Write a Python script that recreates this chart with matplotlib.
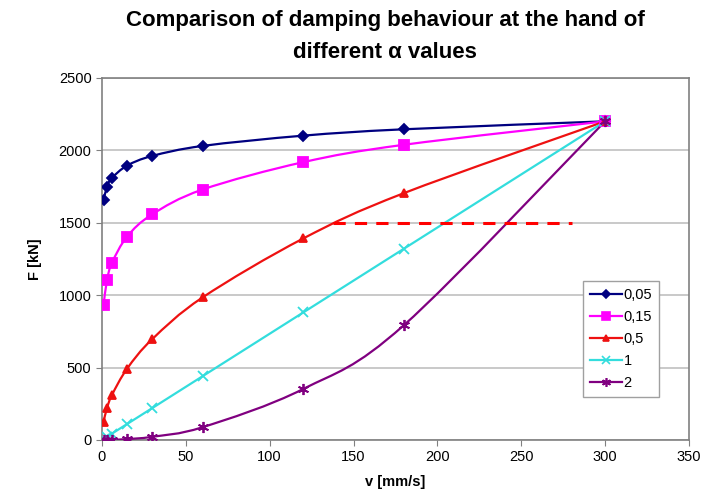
#!/usr/bin/env python3
# Comparison of damping behaviour for different alpha values (F = C * v^alpha)
import numpy as np
import matplotlib
matplotlib.use('Agg')
from matplotlib import pyplot as plt
from matplotlib.path import Path
from matplotlib.patches import PathPatch

plt.rcParams['font.family'] = ['Liberation Sans', 'DejaVu Sans']

v = [1, 3, 6, 15, 30, 60, 120, 180, 300]
f_005 = [1654, 1748, 1809, 1894, 1961, 2030, 2101, 2145, 2200]
f_015 = [935, 1102, 1223, 1404, 1558, 1729, 1918, 2038, 2200]
f_05 = [127, 220, 311, 492, 696, 984, 1391, 1704, 2200]
f_1 = [7, 22, 44, 110, 220, 440, 880, 1320, 2200]
f_2 = [0, 0, 1, 6, 22, 88, 352, 792, 2200]
labels = ['0,05', '0,15', '0,5', '1', '2']
limit_v = [138, 280]
limit_f = [1500, 1500]


def smooth(ax, x, y, color, lw):
    # excel style smoothed line: catmull-rom segments as cubic beziers, in pixel space
    tr = ax.transData
    p = tr.transform(np.column_stack([x, y]))
    n = len(p)
    verts = [p[0]]
    codes = [Path.MOVETO]
    for i in range(n - 1):
        p0 = p[i - 1] if i > 0 else p[i]
        p3 = p[i + 2] if i + 2 < n else p[i + 1]
        c1 = p[i] + (p[i + 1] - p0) / 6.0
        c2 = p[i + 1] - (p3 - p[i]) / 6.0
        verts += [c1, c2, p[i + 1]]
        codes += [Path.CURVE4] * 3
    verts = tr.inverted().transform(np.array(verts))
    ax.add_patch(PathPatch(Path(verts, codes), fill=False, edgecolor=color,
                           lw=lw, zorder=3, capstyle='round'))


fig = plt.figure(figsize=(7.03, 4.96), dpi=100)
ax = fig.add_axes([0.145, 0.113, 0.835, 0.73])
ax.set_xlim(0, 350)
ax.set_ylim(0, 2500)
ax.set_xticks(range(0, 351, 50))
ax.set_yticks(range(0, 2501, 500))
ax.yaxis.grid(True, color='#c0c0c0', lw=1.2)
ax.set_axisbelow(True)
for s in ax.spines.values():
    s.set_color('#808080')
    s.set_linewidth(1.2)
ax.tick_params(direction='out', length=4, color='#808080', labelsize=10.5)

series = [
    (f_005, '#000080', 'D', 5, 'none'),
    (f_015, '#ff00ff', 's', 7, 'none'),
    (f_05, '#ee1111', '^', 5.5, 'none'),
    (f_1, '#33dddd', 'x', 7, 'none'),
    (f_2, '#800080', (6, 2, 0), 8, 'none'),
]
fig.canvas.draw()
for (f, c, m, ms, fc), lab in zip(series, labels):
    smooth(ax, v, f, c, 1.6)
    ax.plot(v, f, ls='none', marker=m, ms=ms, color=c, mew=1.3, zorder=4)
    ax.plot([], [], color=c, marker=m, ms=ms * 0.8, lw=1.6, mew=1.2, label=lab)

ax.plot(limit_v, limit_f, color='#ff0000', ls=(0, (4, 3)), lw=2.2, zorder=5)

leg = ax.legend(loc='upper left', bbox_to_anchor=(0.819, 0.44), fontsize=10.5,
                fancybox=False, edgecolor='#a0a0a0', framealpha=1,
                handlelength=2.2, handletextpad=0.1, labelspacing=0.55,
                borderpad=0.5, borderaxespad=0)

ax.set_xlabel('v [mm/s]', fontsize=10.5, fontweight='bold', labelpad=8)
ax.set_ylabel('F [kN]', fontsize=10.5, fontweight='bold', labelpad=12)
fig.text(0.548, 0.958, 'Comparison of damping behaviour at the hand of',
         ha='center', va='center', fontsize=16, fontweight='bold')
fig.text(0.548, 0.894, 'different \u03b1 values',
         ha='center', va='center', fontsize=16, fontweight='bold')

plt.savefig('out.png', dpi=100)
